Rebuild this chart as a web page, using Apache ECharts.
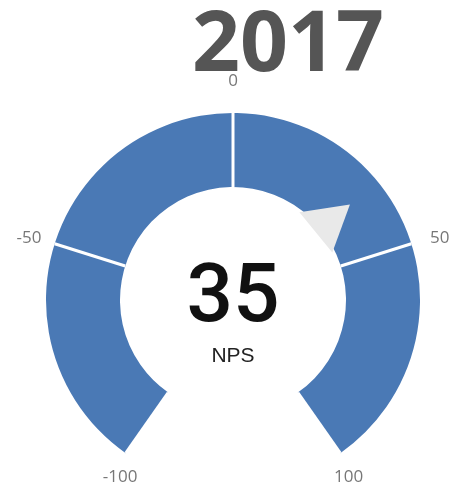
<!DOCTYPE html>
<html>
<head>
<meta charset="utf-8">
<script src="https://cdn.jsdelivr.net/npm/echarts@6/dist/echarts.min.js"></script>
<style>
  html, body { margin: 0; padding: 0; background: #fff; }
  #chart { width: 449px; height: 486px; }
</style>
</head>
<body>
<div id="chart"></div>
<script>
// chart data
const years = ["2017"]
const npsValues = [35]
const seriesNames = ["NPS"]
const tickLabels = [-100, -50, 0, 50, 100]

const blue = "#4a79b5"

const chart = echarts.init(document.getElementById("chart"))

const option = {
  animation: false,
  title: {
    text: years[0],
    left: 283,
    top: 0,
    textAlign: "center",
    textStyle: {
      fontFamily: "Open Sans",
      fontWeight: "bold",
      fontSize: 84,
      lineHeight: 84,
      color: "#555555"
    }
  },
  series: [
    {
      type: "gauge",
      center: [233, 300],
      radius: 187,
      startAngle: 235,
      endAngle: -55,
      min: tickLabels[0],
      max: tickLabels[tickLabels.length - 1],
      splitNumber: tickLabels.length - 1,
      axisLine: {
        lineStyle: {
          width: 74,
          color: [[1, blue]]
        }
      },
      splitLine: {
        show: true,
        length: 74,
        distance: -74,
        lineStyle: {
          color: "#ffffff",
          width: 3
        }
      },
      axisTick: { show: false },
      axisLabel: {
        distance: -40,
        color: "#777777",
        fontSize: 17,
        fontFamily: "Open Sans",
        // side labels (-50 / 50) sit a little lower in the original
        formatter: v => (Math.abs(v) === 50 ? `{side|${v}}` : `${v}`),
        rich: {
          side: {
            color: "#777777",
            fontSize: 17,
            fontFamily: "Open Sans",
            padding: [12, 0, 0, 0]
          }
        }
      },
      pointer: {
        icon: "triangle",
        length: 44,
        width: 52,
        offsetCenter: [0, -107],
        itemStyle: { color: "#e9e9e9" }
      },
      anchor: { show: false },
      progress: { show: false },
      title: {
        offsetCenter: [0, 56],
        color: "#222222",
        fontSize: 21,
        fontFamily: "Liberation Sans"
      },
      detail: {
        offsetCenter: [0, 0],
        formatter: "{value}",
        color: "#111111",
        fontSize: 82,
        fontWeight: 500,
        fontFamily: "Roboto"
      },
      data: [{ value: npsValues[0], name: seriesNames[0] }]
    }
  ]
}

chart.setOption(option)
</script>
</body>
</html>
